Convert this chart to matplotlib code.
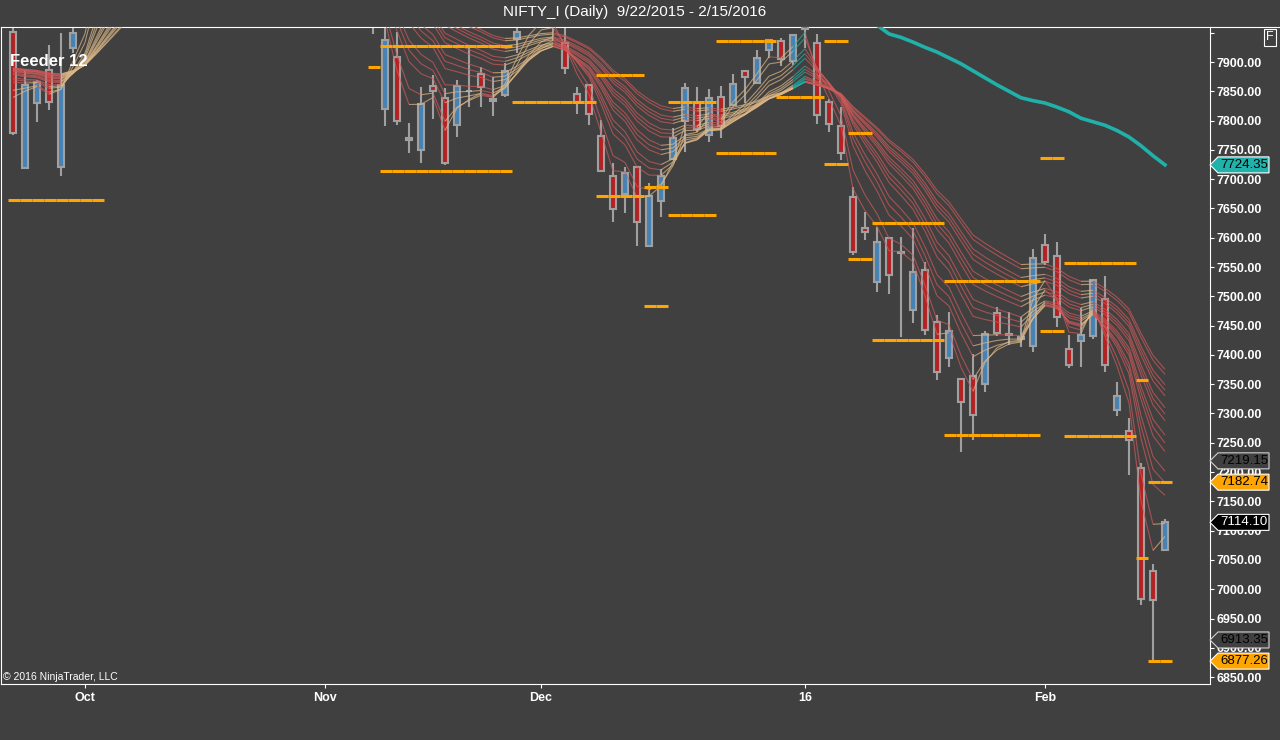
import numpy as np
import matplotlib
matplotlib.use('Agg')
import matplotlib.pyplot as plt
from matplotlib.collections import LineCollection
from matplotlib.patches import Polygon

plt.rcParams['font.family'] = ['Liberation Sans', 'DejaVu Sans']

# ---- daily bars, index 0 = 9/22/2015 ... 96 = 2/15/2016 (Oct bars sit above the visible range)
opens = [7952, 7719, 7830, 7886, 7721, 7924,
         7980, 8040, 8150, 8180, 8200, 8160, 8200, 8150, 8130, 8140, 8210, 8260, 8290, 8270,
         8300, 8300, 8270, 8240, 8180, 8120, 8060, 8080, 8090, 8040, 7990,
         7820, 7909, 7766, 7749, 7859, 7839, 7792, 7850, 7880, 7836, 7844, 7939, 7970, 7975,
         7985, 7932, 7845, 7861, 7774, 7706, 7675, 7720, 7586, 7663, 7734, 7799, 7830, 7775,
         7841, 7827, 7885, 7864, 7920, 7936, 7902, 7957, 7932, 7832, 7790, 7670, 7617, 7525,
         7600, 7575, 7476, 7545, 7457, 7394, 7359, 7364, 7350, 7472, 7435, 7431, 7416, 7588,
         7568, 7410, 7423, 7432, 7495, 7306, 7270, 7207, 7031, 7067]
highs = [7975, 7886, 7870, 7929, 7950, 7975,
         8010, 8150, 8190, 8220, 8210, 8225, 8210, 8165, 8150, 8205, 8265, 8300, 8310, 8290,
         8340, 8310, 8285, 8250, 8195, 8140, 8090, 8110, 8100, 8050, 8010,
         7965, 7952, 7796, 7857, 7878, 7856, 7869, 7924, 7892, 7874, 7898, 7970, 8005, 8005,
         8000, 7965, 7857, 7862, 7801, 7728, 7721, 7722, 7693, 7717, 7787, 7864, 7857, 7854,
         7859, 7880, 7886, 7920, 7940, 7941, 7948, 7990, 7948, 7836, 7824, 7687, 7644, 7619,
         7602, 7602, 7617, 7559, 7468, 7474, 7360, 7402, 7440, 7482, 7473, 7465, 7581, 7606,
         7593, 7434, 7480, 7530, 7535, 7353, 7293, 7215, 7043, 7120]
lows = [7776, 7717, 7798, 7818, 7706, 7915,
        7965, 8035, 8120, 8160, 8130, 8140, 8140, 8100, 8090, 8120, 8200, 8240, 8250, 8240,
        8280, 8260, 8230, 8170, 8110, 8070, 8035, 8060, 8040, 7980, 7947,
        7790, 7792, 7744, 7728, 7803, 7724, 7772, 7823, 7823, 7807, 7841, 7915, 7962, 7965,
        7936, 7880, 7811, 7792, 7712, 7627, 7642, 7586, 7585, 7636, 7732, 7746, 7780, 7764,
        7771, 7825, 7830, 7862, 7907, 7894, 7895, 7924, 7794, 7781, 7733, 7571, 7596, 7508,
        7504, 7431, 7455, 7434, 7357, 7380, 7235, 7255, 7337, 7433, 7417, 7413, 7405, 7553,
        7448, 7377, 7379, 7427, 7370, 7296, 7195, 6973, 6877, 7066]
closes = [7779, 7861, 7866, 7832, 7861, 7950,
          7995, 8140, 8175, 8200, 8150, 8215, 8165, 8125, 8120, 8195, 8255, 8290, 8265, 8270,
          8310, 8275, 8250, 8185, 8125, 8080, 8070, 8085, 8060, 7990, 7975,
          7938, 7799, 7770, 7828, 7851, 7727, 7859, 7851, 7857, 7834, 7885, 7951, 7985, 7990,
          7965, 7889, 7831, 7811, 7714, 7649, 7711, 7627, 7672, 7706, 7770, 7856, 7786, 7839,
          7790, 7862, 7874, 7907, 7938, 7905, 7946, 7975, 7810, 7794, 7745, 7576, 7609, 7593,
          7536, 7574, 7542, 7442, 7370, 7440, 7320, 7297, 7436, 7437, 7434, 7427, 7565, 7559,
          7464, 7382, 7434, 7528, 7382, 7330, 7255, 6983, 6982, 7114.10]

# EMA ribbon ("Feeder")
ribbon_periods = [3, 4, 6, 7, 8, 10, 11, 12, 14, 15, 16, 18, 19, 20, 22, 23]
ribbon_start = 7900
teal_segments = [65]

# long SMA (teal)
sma_bars = list(range(71, 97))
sma_vals = [7972, 7963, 7948, 7942, 7934, 7925, 7917, 7907, 7897, 7885, 7873, 7861, 7850,
            7839, 7834, 7830, 7823, 7815, 7804, 7798, 7792, 7783, 7772, 7757, 7740, 7724.35]

# orange level segments: first bar, last bar, level
lvl_first = [0, 30, 31, 31, 42, 49, 49, 53, 53, 55, 55, 59, 59, 64, 68, 68, 70, 70,
             72, 72, 78, 78, 86, 86, 88, 88, 94, 94, 95, 95]
lvl_last = [7, 30, 41, 41, 48, 52, 52, 54, 54, 58, 58, 63, 63, 67, 69, 69, 71, 71,
            77, 77, 85, 85, 87, 87, 93, 93, 94, 94, 96, 96]
lvl_value = [7664, 7892, 7928, 7714, 7831, 7877, 7672, 7687, 7484, 7832, 7639, 7935, 7745,
             7841, 7936, 7726, 7778, 7564, 7626, 7425, 7527, 7263, 7736, 7441, 7557, 7262,
             7357, 7054, 7183, 6878]

# right-side price markers
tag_values = [7724.35, 7219.15, 7182.74, 7114.10, 6913.35, 6877.26]
tag_faces = ['#20B2AA', '#404040', '#FFA500', '#000000', '#404040', '#FFA500']
tag_text = ['black', 'black', 'black', 'white', 'black', 'black']
tag_edges = ['white', '#D0D0D0', 'white', 'white', '#D0D0D0', 'white']

month_bars = [6, 26, 44, 66, 86]
month_names = ['Oct', 'Nov', 'Dec', '16', 'Feb']

BG = '#404040'
W, H = 1280, 740
fig = plt.figure(figsize=(W / 100, H / 100), dpi=100, facecolor=BG)
ax_l, ax_r, ax_t, ax_b = 1, 1210, 27, 684
ax = fig.add_axes([ax_l / W, 1 - ax_b / H, (ax_r - ax_l) / W, (ax_b - ax_t) / H])
ax.set_facecolor(BG)
ymin, ymax = 6838.2, 7959.75
ax.set_xlim(-1.0, 99.75)
ax.set_ylim(ymin, ymax)

x = np.arange(len(closes))
o = np.array(opens, float)
c = np.array(closes, float)
up = c >= o

# candles
ax.vlines(x, lows, highs, color='#A0A0A0', lw=1.5, zorder=2)
ax.bar(x, np.abs(c - o), bottom=np.minimum(o, c), width=0.56,
       color=np.where(up, '#4682B4', '#B22222'), edgecolor='#A0A0A0', linewidth=1.5, zorder=3)

# ribbon
for p in ribbon_periods:
    a = 2.0 / (p + 1)
    e = ribbon_start
    vals = []
    for cl in closes:
        e = a * cl + (1 - a) * e
        vals.append(e)
    segs, cols = [], []
    for i in range(len(vals) - 1):
        segs.append([(i, vals[i]), (i + 1, vals[i + 1])])
        if i in teal_segments:
            cols.append('#20B2AA')
        elif vals[i + 1] >= vals[i]:
            cols.append('#DEB887')
        else:
            cols.append('#D05A5A')
    ax.add_collection(LineCollection(segs, colors=cols, linewidths=0.8, alpha=0.7, zorder=4))

# SMA
ax.plot(sma_bars, sma_vals, color='#20B2AA', lw=2.6, zorder=5)

# orange levels, one dash per bar
dsegs = []
for f, l, v in zip(lvl_first, lvl_last, lvl_value):
    for i in range(f, l + 1):
        dsegs.append([(i - 0.42, v), (i + 0.55, v)])
ax.add_collection(LineCollection(dsegs, colors='#FFA500', linewidths=2.2, capstyle='butt', zorder=6))

# axes styling
for s in ax.spines.values():
    s.set_color('white')
    s.set_linewidth(0.8)
ax.yaxis.tick_right()
yt = np.arange(6850, 7951, 50)
ax.set_yticks(yt)
ax.set_yticklabels(['%.2f' % v if v < 7950 else '' for v in yt])
ax.set_xticks(month_bars)
ax.set_xticklabels(month_names)
ax.tick_params(axis='both', colors='white', direction='out', length=3, width=0.8, labelsize=9)
ax.tick_params(axis='y', pad=1.5)
ax.tick_params(axis='x', pad=3)
for lbl in ax.get_yticklabels() + ax.get_xticklabels():
    lbl.set_fontweight('bold')

# top border continues past the price axis
fig.add_artist(plt.Line2D([ax_r / W, 1], [1 - ax_t / H, 1 - ax_t / H], color='white', lw=0.8))

# price tags
tr = ax.get_yaxis_transform()
pxw = 1.0 / (ax_r - ax_l)
pxh = (ymax - ymin) / (ax_b - ax_t)
for v, fc, tc, ec in zip(tag_values, tag_faces, tag_text, tag_edges):
    hh = 8 * pxh
    poly = Polygon([(1, v), (1 + 8 * pxw, v + hh), (1 + 59 * pxw, v + hh),
                    (1 + 59 * pxw, v - hh), (1 + 8 * pxw, v - hh)], closed=True,
                   transform=tr, facecolor=fc, edgecolor=ec, lw=0.8, clip_on=False, zorder=10)
    ax.add_patch(poly)
    ax.text(1 + 34 * pxw, v, '%.2f' % v, transform=tr, ha='center', va='center',
            fontsize=9.5, color=tc, clip_on=False, zorder=11)

# texts
fig.text(635 / W, 1 - 12 / H, 'NIFTY_I (Daily)  9/22/2015 - 2/15/2016', ha='center', va='center',
         fontsize=11, color='white')
fig.text(10 / W, 1 - 62 / H, 'Feeder 12', ha='left', va='center', fontsize=12,
         fontweight='bold', color='white', zorder=20)
fig.text(3 / W, 1 - 677 / H, '\u00a9 2016 NinjaTrader, LLC', ha='left', va='center',
         fontsize=7.5, color='white')
fig.text(1270 / W, 1 - 37 / H, 'F', ha='center', va='center', fontsize=9, color='white',
         bbox=dict(boxstyle='square,pad=0.2', facecolor='none', edgecolor='white', lw=0.8))

fig.savefig('out.png', dpi=100, facecolor=BG)
